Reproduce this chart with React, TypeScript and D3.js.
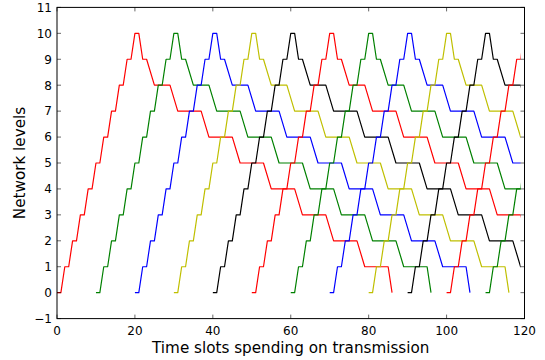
import * as d3 from "d3";
import { useEffect, useRef } from "react";

// level profile of one transmission (time slot offset -> network level)
const profileSlot = [
  0, 1, 2, 3, 4, 5, 6, 7, 8, 9, 10, 11, 12, 13, 14, 15, 16, 17, 18, 19, 20, 21,
  22, 23, 25, 29, 31, 37, 39, 45, 47, 53, 55, 61, 63, 69, 71, 77, 79, 85, 86,
];
const profileLevel = [
  0, 0, 1, 1, 2, 2, 3, 3, 4, 4, 5, 5, 6, 6, 7, 7, 8, 8, 9, 9, 10, 10,
  9, 9, 8, 8, 7, 7, 6, 6, 5, 5, 4, 4, 3, 3, 2, 2, 1, 1, 0,
];

// each series starts at its own slot, colours cycle r g b y k
const seriesStart = [0, 10, 20, 30, 40, 50, 60, 70, 80, 90, 100, 110];
const seriesColor = [
  "#ff0000", "#008000", "#0000ff", "#bfbf00", "#000000",
  "#ff0000", "#008000", "#0000ff", "#bfbf00", "#000000",
  "#ff0000", "#008000",
];
const lastSlot = 119;

const xTicks = [0, 20, 40, 60, 80, 100, 120];
const yTicks = [-1, 0, 1, 2, 3, 4, 5, 6, 7, 8, 9, 10, 11];

const xLabel = "Time slots spending on transmission";
const yLabel = "Network levels";

export default function App() {
  const ref = useRef<SVGSVGElement | null>(null);
  const width = 545;
  const height = 360;

  useEffect(() => {
    const el = ref.current;
    if (!el) return;
    const svg = d3.select<SVGSVGElement, unknown>(el);
    svg.selectAll("*").remove();

    const margin = { top: 7.4, right: 20.5, bottom: 41.4, left: 57 };
    const font = "'DejaVu Sans', sans-serif";

    const x = d3.scaleLinear().domain([0, 120]).range([margin.left, width - margin.right]);
    const y = d3.scaleLinear().domain([-1, 11]).range([height - margin.bottom, margin.top]);

    svg.append("rect").attr("width", width).attr("height", height).attr("fill", "#fff");

    svg
        .append("defs")
        .append("clipPath")
        .attr("id", "plot-clip")
        .append("rect")
        .attr("x", x(0) - 1)
        .attr("y", margin.top)
        .attr("width", x(lastSlot) - x(0) + 1)
        .attr("height", height - margin.top - margin.bottom);

    const line = d3
        .line<[number, number]>()
        .x((d) => x(d[0]))
        .y((d) => y(d[1]));

    const g = svg.append("g").attr("clip-path", "url(#plot-clip)");
    seriesStart.forEach((s, i) => {
      const pts: [number, number][] = profileSlot.map((t, j) => [s + t, profileLevel[j]]);
      g.append("path")
          .attr("d", line(pts))
          .attr("fill", "none")
          .attr("stroke", seriesColor[i])
          .attr("stroke-width", 1.2)
          .attr("stroke-linejoin", "round");
    });

    const x0 = x(0), x1 = x(120), y0 = y(-1), y1 = y(11);
    const tickLen = 4;
    const ticks = svg.append("g").attr("stroke", "#000").attr("stroke-width", 0.6);
    xTicks.forEach((t) => {
      ticks.append("line").attr("x1", x(t)).attr("x2", x(t)).attr("y1", y0).attr("y2", y0 - tickLen);
      ticks.append("line").attr("x1", x(t)).attr("x2", x(t)).attr("y1", y1).attr("y2", y1 + tickLen);
    });
    yTicks.forEach((t) => {
      ticks.append("line").attr("x1", x0).attr("x2", x0 + tickLen).attr("y1", y(t)).attr("y2", y(t));
      ticks.append("line").attr("x1", x1).attr("x2", x1 - tickLen).attr("y1", y(t)).attr("y2", y(t));
    });

    svg
        .append("rect")
        .attr("x", x0)
        .attr("y", y1)
        .attr("width", x1 - x0)
        .attr("height", y0 - y1)
        .attr("fill", "none")
        .attr("stroke", "#000")
        .attr("stroke-width", 1);

    const fmt = (v: number) => (v < 0 ? `\u2212${Math.abs(v)}` : String(v));

    svg
        .append("g")
        .selectAll("text")
        .data(xTicks)
        .enter()
        .append("text")
        .attr("x", (d) => x(d))
        .attr("y", y0 + 16)
        .attr("text-anchor", "middle")
        .attr("font-family", font)
        .attr("font-size", 12)
        .attr("fill", "#000")
        .text(fmt);

    svg
        .append("g")
        .selectAll("text")
        .data(yTicks)
        .enter()
        .append("text")
        .attr("x", x0 - 5)
        .attr("y", (d) => y(d))
        .attr("dy", "0.36em")
        .attr("text-anchor", "end")
        .attr("font-family", font)
        .attr("font-size", 12)
        .attr("fill", "#000")
        .text(fmt);

    svg
        .append("text")
        .attr("x", (x0 + x1) / 2)
        .attr("y", 353)
        .attr("text-anchor", "middle")
        .attr("font-family", font)
        .attr("font-size", 15.2)
        .attr("fill", "#000")
        .text(xLabel);

    svg
        .append("text")
        .attr("transform", `translate(25,${(y0 + y1) / 2}) rotate(-90)`)
        .attr("text-anchor", "middle")
        .attr("font-family", font)
        .attr("font-size", 15.2)
        .attr("fill", "#000")
        .text(yLabel);
  }, []);

  return (
      <svg
          ref={ref}
          width={width}
          height={height}
          style={{ position: "absolute", left: 0, top: 0, display: "block" }}
      />
  );
}
